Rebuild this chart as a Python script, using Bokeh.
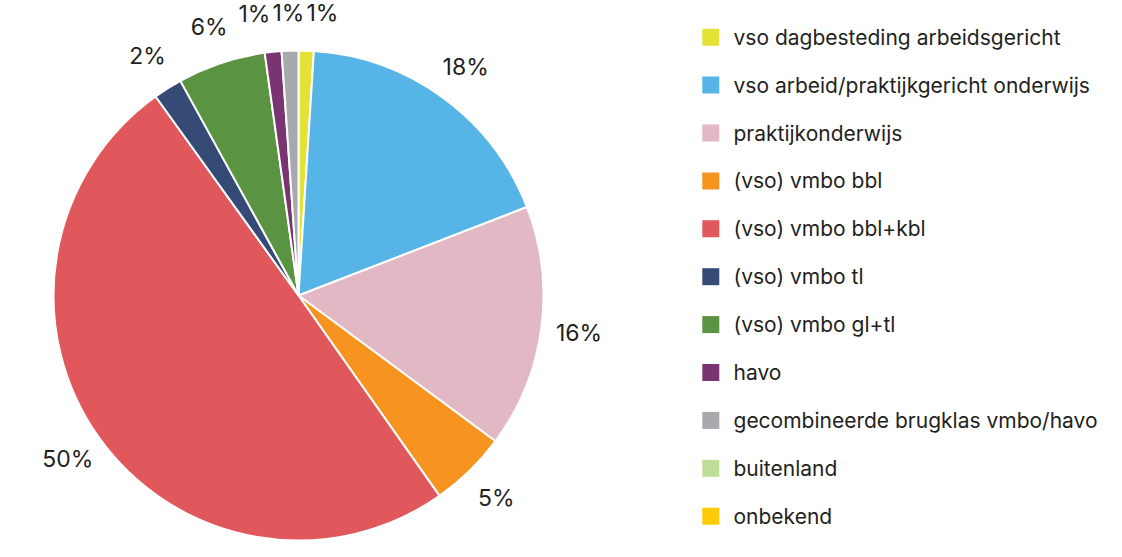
import numpy as np
from bokeh.plotting import figure
from bokeh.models import Range1d, ColumnDataSource
from bokeh.core.properties import value
from bokeh.embed import file_html
from bokeh.resources import INLINE

categories = [
    "vso dagbesteding arbeidsgericht",
    "vso arbeid/praktijkgericht onderwijs",
    "praktijkonderwijs",
    "(vso) vmbo bbl",
    "(vso) vmbo bbl+kbl",
    "(vso) vmbo tl",
    "(vso) vmbo gl+tl",
    "havo",
    "gecombineerde brugklas vmbo/havo",
    "buitenland",
    "onbekend",
]
shares = [1.0, 18.1, 16.0, 5.1, 49.8, 1.9, 5.8, 1.1, 1.1, 0.0, 0.0]
colors = [
    "#e3e236", "#56b4e6", "#e2b8c5", "#f6941f", "#e0575c", "#354a74",
    "#5a9442", "#7a3471", "#a8a9ad", "#bfdf98", "#fecb0a",
]

FONT = "Inter"
TEXT_COLOR = "#231f20"

W, H = 1106, 541
p = figure(width=W, height=H, output_backend="svg", toolbar_location=None,
           x_range=Range1d(0, W), y_range=Range1d(0, H))
p.axis.visible = False
p.grid.visible = False
p.outline_line_color = None
p.min_border = 0
p.background_fill_color = "white"
p.border_fill_color = "white"


def fy(screen_y):
    # convert a top-down canvas pixel row to data y
    return H - screen_y


R = 245.0
cx, cy = 298.0, fy(295.0)

vals = np.array(shares, dtype=float)
frac = vals / vals.sum()
cum_end = np.cumsum(frac)
cum_start = cum_end - frac
start = np.pi / 2 - cum_start * 2 * np.pi
end = np.pi / 2 - cum_end * 2 * np.pi
mask = vals > 0

wsrc = ColumnDataSource(dict(
    start=start[mask], end=end[mask], color=np.array(colors)[mask],
))
p.wedge(x=cx, y=cy, radius=R, start_angle="start", end_angle="end",
        direction="clock", fill_color="color", line_color="white",
        line_width=2, source=wsrc)

# percentage labels
mid = (cum_start + cum_end) / 2 * 2 * np.pi  # clockwise from top
LR = R + 38.0
lx = cx + LR * np.sin(mid)
ly = cy + LR * np.cos(mid)
idx = [i for i in range(len(vals)) if vals[i] > 0]
lx = lx[idx].copy()
ly = ly[idx].copy()
texts = [f"{round(vals[i])}%" for i in idx]
# simple collision avoidance (horizontal spreading)
min_sep = 34.0
for _ in range(300):
    moved = False
    for a in range(len(lx)):
        for b in range(a + 1, len(lx)):
            if abs(ly[a] - ly[b]) < 24 and abs(lx[a] - lx[b]) < min_sep:
                d = (min_sep - abs(lx[a] - lx[b])) / 2 + 0.01
                if lx[a] <= lx[b]:
                    lx[a] -= d; lx[b] += d
                else:
                    lx[a] += d; lx[b] -= d
                moved = True
    if not moved:
        break

p.text(x=lx, y=ly, text=texts, text_align="center", text_baseline="middle",
       text_font=value(FONT), text_font_size="23px", text_color=TEXT_COLOR)

# legend
row0 = 36.7
step = 47.9
ly_leg = [fy(row0 + i * step) for i in range(len(categories))]
p.scatter(x=[710.3] * len(categories), y=ly_leg, marker="square", size=17,
          fill_color=colors, line_color=None)
p.text(x=[733] * len(categories), y=ly_leg, text=categories,
       text_align="left", text_baseline="middle",
       text_font=value(FONT), text_font_size="21px", text_color=TEXT_COLOR)

open("out.html", "w").write(file_html(p, INLINE))
